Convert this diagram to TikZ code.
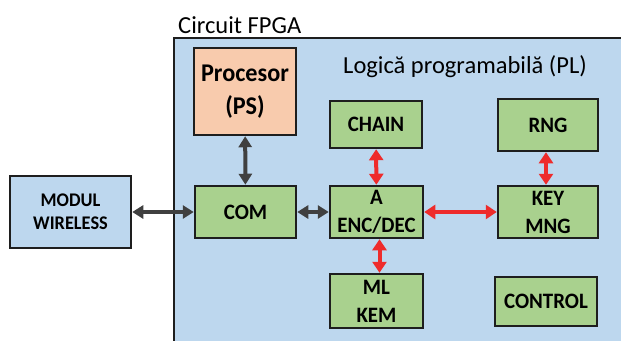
\documentclass[tikz,border=0pt]{standalone}
\usepackage{fontspec}
\setmainfont{Carlito}
\newfontfamily\boxfont{Carlito}[FakeStretch=0.95]
\usetikzlibrary{arrows.meta}
\definecolor{fpgablue}{HTML}{BDD7EE}
\definecolor{boxgreen}{HTML}{A9D18E}
\definecolor{procpeach}{HTML}{F8CBAD}
\definecolor{boxline}{HTML}{1E1E1E}
\definecolor{arrdark}{HTML}{404040}
\definecolor{arrred}{HTML}{EE2B2B}
\begin{document}
\begin{tikzpicture}[x=1pt,y=-1pt,
  box/.style={draw=boxline,line width=2.5pt,inner sep=0pt,align=center,
    font=\boxfont\fontsize{22}{28}\bfseries\selectfont},
  gbox/.style={box,fill=boxgreen},
  darr/.style={draw=arrdark,line width=4pt,
    {Triangle[length=11pt,width=13pt]}-{Triangle[length=11pt,width=13pt]}},
  rarr/.style={draw=arrred,line width=4pt,
    {Triangle[length=11pt,width=14pt]}-{Triangle[length=11pt,width=14pt]}}]
\useasboundingbox (0,0) rectangle (621,340);
\clip (0,0) rectangle (621,340);
\fill[white] (0,0) rectangle (621,340);
% FPGA area
\node[draw=boxline,line width=2pt,fill=fpgablue,inner sep=0pt,
  minimum width=486pt,minimum height=342pt] (fpga) at (417,209) {};
\node[anchor=base west,inner sep=0pt,font=\fontsize{24.5}{28}\selectfont]
  (fpgalbl) at (178,33) {Circuit FPGA};
\node[anchor=base,inner sep=0pt,font=\fontsize{24.5}{28}\selectfont]
  (pllbl) at (465,73) {Logică programabilă (PL)};
% boxes
\node[box,fill=procpeach,minimum width=102pt,minimum height=87pt,
  font=\boxfont\fontsize{25.5}{33}\bfseries\selectfont] (proc) at (245,91.5) {Procesor\\(PS)};
\node[gbox,minimum width=92pt,minimum height=47pt] (chain) at (376,124.5) {CHAIN};
\node[gbox,minimum width=100pt,minimum height=52pt] (rng) at (548,125) {RNG};
\node[box,fill=fpgablue,minimum width=121pt,minimum height=72pt,
  font=\boxfont\fontsize{19.3}{23}\bfseries\selectfont] (modul) at (70.5,212) {MODUL\\WIRELESS};
\node[gbox,minimum width=101pt,minimum height=52pt] (com) at (245.5,212) {COM};
\node[gbox,minimum width=93pt,minimum height=52pt] (enc) at (376.5,212) {A\\ENC/DEC};
\node[gbox,minimum width=100pt,minimum height=52pt] (key) at (548,212) {KEY\\MNG};
\node[gbox,minimum width=93pt,minimum height=54pt] (ml) at (376.5,301) {ML\\KEM};
\node[gbox,minimum width=102pt,minimum height=49pt] (ctrl) at (546,301.5) {CONTROL};
% connectors
\draw[darr] (proc) -- (com);
\draw[darr] (modul) -- (com);
\draw[darr] (com) -- (enc);
\draw[rarr] (chain) -- (enc);
\draw[rarr] ([xshift=3pt]enc.south) -- ([xshift=3pt]ml.north);
\draw[rarr] (enc) -- (key);
\draw[rarr] ([xshift=-2pt]rng.south) -- ([xshift=-2pt]key.north);
\end{tikzpicture}
\end{document}
